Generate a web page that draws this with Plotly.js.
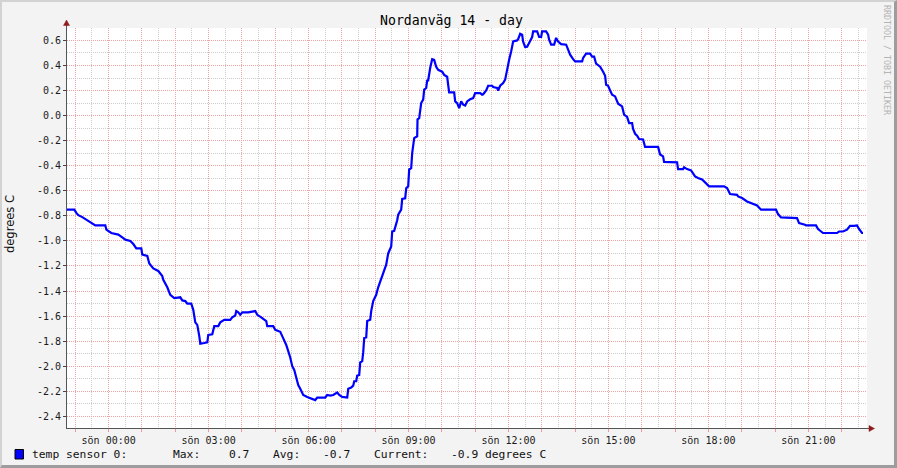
<!DOCTYPE html>
<html>
<head>
<meta charset="utf-8">
<script src="https://cdn.plot.ly/plotly-3.0.1.min.js"></script>
<style>
  html, body { margin: 0; padding: 0; background: #f3f3f3; }
  #wrap { position: relative; width: 897px; height: 468px; }
  #chart { width: 897px; height: 468px; }
  #frame { position: absolute; left: 0; top: 0; width: 897px; height: 468px; box-sizing: border-box;
           border-top: 2px solid #d2d2d2; border-left: 2px solid #d2d2d2;
           border-bottom: 3px solid #9d9d9d; border-right: 3px solid #9d9d9d; pointer-events: none; }
</style>
</head>
<body>
<div id="wrap"><div id="chart"></div><div id="frame"></div></div>
<script>
// hours relative to midnight (Sunday 00:00)
const hours = [-1.25,-1.03,-0.97,-0.91,-0.79,-0.67,-0.55,-0.40,-0.10,-0.07,0.08,0.29,0.44,0.50,0.65,0.74,0.83,0.98,1.01,1.16,
1.22,1.34,1.49,1.61,1.64,1.76,1.85,1.97,2.15,2.21,2.30,2.36,2.48,2.54,2.60,2.66,2.72,2.75,2.87,2.96,
2.99,3.11,3.17,3.29,3.35,3.47,3.65,3.71,3.80,3.83,3.89,3.95,4.01,4.19,4.40,4.46,4.58,4.67,4.73,4.76,
4.94,5.00,5.09,5.15,5.21,5.27,5.33,5.39,5.45,5.51,5.57,5.63,5.69,5.75,5.84,5.96,6.05,6.14,6.20,6.26,
6.50,6.56,6.65,6.74,6.86,6.92,7.01,7.16,7.19,7.28,7.34,7.37,7.43,7.46,7.52,7.55,7.61,7.64,7.67,7.73,
7.76,7.85,7.88,7.94,8.03,8.09,8.18,8.24,8.33,8.39,8.48,8.51,8.57,8.66,8.69,8.78,8.81,8.90,8.93,8.99,
9.02,9.08,9.11,9.17,9.26,9.27,9.32,9.38,9.44,9.47,9.53,9.56,9.59,9.65,9.71,9.77,9.83,9.89,10.01,10.07,
10.16,10.19,10.22,10.37,10.40,10.46,10.52,10.58,10.64,10.70,10.76,10.85,10.94,11.00,11.15,11.21,11.24,11.33,11.39,11.51,
11.54,11.66,11.69,11.75,11.84,11.90,11.96,12.02,12.08,12.14,12.26,12.29,12.35,12.41,12.44,12.50,12.56,12.65,12.71,12.74,
12.86,12.92,12.98,13.01,13.13,13.19,13.22,13.28,13.37,13.43,13.49,13.58,13.73,13.79,13.85,13.94,14.00,14.21,14.24,14.33,
14.45,14.51,14.57,14.63,14.69,14.75,14.84,14.90,14.93,14.99,15.05,15.11,15.20,15.29,15.41,15.47,15.56,15.62,15.71,15.74,
15.80,15.86,15.92,16.04,16.10,16.49,16.55,16.64,16.67,17.06,17.09,17.24,17.27,17.36,17.48,17.60,17.69,17.81,17.90,18.02,
18.47,18.56,18.65,18.86,18.89,19.01,19.16,19.31,19.46,19.58,20.03,20.09,20.18,20.66,20.72,20.90,20.93,21.23,21.29,21.44,
21.86,21.92,22.04,22.16,22.25,22.37,22.46,22.52,22.61,22.64];
const temps = [-0.75,-0.75,-0.776,-0.795,-0.81,-0.83,-0.845,-0.876,-0.876,-0.91,-0.937,-0.95,-0.977,-0.99,-1.0,-1.025,-1.06,-1.06,-1.11,-1.12,
-1.18,-1.22,-1.24,-1.28,-1.31,-1.37,-1.43,-1.456,-1.45,-1.475,-1.48,-1.50,-1.50,-1.55,-1.65,-1.67,-1.76,-1.82,-1.815,-1.81,
-1.75,-1.745,-1.68,-1.68,-1.65,-1.63,-1.63,-1.61,-1.595,-1.56,-1.57,-1.59,-1.57,-1.57,-1.56,-1.59,-1.61,-1.63,-1.64,-1.68,
-1.68,-1.71,-1.72,-1.725,-1.76,-1.79,-1.83,-1.88,-1.93,-2.0,-2.03,-2.09,-2.15,-2.18,-2.23,-2.245,-2.255,-2.26,-2.27,-2.25,
-2.25,-2.23,-2.235,-2.23,-2.21,-2.23,-2.245,-2.25,-2.18,-2.17,-2.155,-2.12,-2.12,-2.075,-2.07,-1.97,-1.96,-1.89,-1.775,-1.77,
-1.64,-1.63,-1.56,-1.48,-1.43,-1.37,-1.30,-1.26,-1.19,-1.10,-1.045,-0.925,-0.92,-0.835,-0.79,-0.75,-0.665,-0.66,-0.58,-0.565,
-0.43,-0.42,-0.30,-0.18,-0.165,-0.03,-0.02,0.10,0.127,0.207,0.22,0.28,0.28,0.38,0.45,0.445,0.39,0.365,0.35,0.325,
0.31,0.246,0.185,0.185,0.113,0.10,0.06,0.113,0.087,0.08,0.113,0.13,0.14,0.18,0.18,0.167,0.17,0.20,0.238,0.238,
0.228,0.22,0.20,0.238,0.26,0.287,0.38,0.446,0.512,0.592,0.60,0.61,0.653,0.645,0.59,0.547,0.55,0.59,0.627,0.672,
0.672,0.627,0.627,0.672,0.672,0.645,0.606,0.566,0.566,0.62,0.59,0.57,0.566,0.526,0.486,0.45,0.432,0.432,0.46,0.494,
0.494,0.47,0.47,0.414,0.40,0.39,0.35,0.318,0.246,0.238,0.20,0.167,0.153,0.095,0.073,0.007,-0.011,-0.06,-0.06,-0.107,
-0.145,-0.16,-0.187,-0.19,-0.25,-0.25,-0.31,-0.325,-0.37,-0.373,-0.427,-0.427,-0.413,-0.427,-0.437,-0.485,-0.498,-0.51,-0.533,-0.565,
-0.565,-0.578,-0.626,-0.632,-0.645,-0.658,-0.685,-0.698,-0.717,-0.751,-0.751,-0.786,-0.813,-0.818,-0.858,-0.871,-0.876,-0.876,-0.905,-0.937,
-0.937,-0.925,-0.925,-0.91,-0.88,-0.88,-0.876,-0.905,-0.937,-0.937];

const xTickVals = [-1,0,1,2,3,4,5,6,7,8,9,10,11,12,13,14,15,16,17,18,19,20,21,22];
const xTickText = ['','sön 00:00','','','sön 03:00','','','sön 06:00','','','sön 09:00','','','sön 12:00','','','sön 15:00','','','sön 18:00','','','sön 21:00',''];
const yTickVals = [0.6,0.4,0.2,0.0,-0.2,-0.4,-0.6,-0.8,-1.0,-1.2,-1.4,-1.6,-1.8,-2.0,-2.2,-2.4];
const yTickText = ['0.6','0.4','0.2','0.0','-0.2','-0.4','-0.6','-0.8','-1.0','-1.2','-1.4','-1.6','-1.8','-2.0','-2.2','-2.4'];

const titleText = 'Nordanväg 14 - day';
const yTitle = 'degrees C';
const seriesName = 'temp sensor 0:';
const legendItems = [
  {text: 'temp sensor 0:', left: 30.5},
  {text: 'Max:', left: 171.5},
  {text: '0.7', left: 228},
  {text: 'Avg:', left: 271.5},
  {text: '-0.7', left: 321.5},
  {text: 'Current:', left: 372.5},
  {text: '-0.9 degrees C', left: 450}
];
const watermark = 'RRDTOOL / TOBI OETIKER';

// pixel -> paper helpers (plot area 67..867 x 28..428)
const L = 67, R = 867, T = 28, B = 428;
const px = x => (x - L) / (R - L);
const py = y => (B - y) / (B - T);

const mono = 'DejaVu Sans Mono, monospace';
const arrowRed = '#8e1b1b';

const annotations = legendItems.map(it => ({
  xref: 'paper', yref: 'paper', x: px(it.left - 1), y: py(454.5), xanchor: 'left', yanchor: 'middle',
  text: it.text, showarrow: false, font: {family: mono, size: 11.3, color: '#111'}
}));
annotations.push({
  xref: 'paper', yref: 'paper', x: px(10), y: py(224), xanchor: 'center', yanchor: 'middle',
  text: yTitle, textangle: -90, showarrow: false, font: {family: 'DejaVu Sans, sans-serif', size: 11.5, color: '#111'}
});
annotations.push({
  xref: 'paper', yref: 'paper', x: px(887), y: py(60), xanchor: 'center', yanchor: 'middle',
  text: watermark, textangle: 90, showarrow: false, font: {family: mono, size: 8.3, color: '#b4b4b4'}
});

const shapes = [
  // legend swatch
  {type: 'rect', xref: 'paper', yref: 'paper', x0: px(15), x1: px(23.5), y0: py(459), y1: py(449.5),
   fillcolor: '#0000ff', line: {color: '#000', width: 1}},
  // x axis extension
  {type: 'line', xref: 'paper', yref: 'paper', x0: px(867), x1: px(870), y0: py(428.5), y1: py(428.5),
   line: {color: '#555', width: 1}},
  // right arrow
  {type: 'path', xref: 'paper', yref: 'paper',
   path: `M ${px(869)},${py(425.5)} L ${px(874.5)},${py(428.5)} L ${px(869)},${py(431.5)} Z`,
   fillcolor: arrowRed, line: {color: arrowRed, width: 0.5}},
  // y axis extension and top arrow
  {type: 'line', xref: 'paper', yref: 'paper', x0: px(66.5), x1: px(66.5), y0: py(28), y1: py(25),
   line: {color: '#555', width: 1}},
  {type: 'path', xref: 'paper', yref: 'paper',
   path: `M ${px(63.5)},${py(25.5)} L ${px(66.5)},${py(20)} L ${px(69.5)},${py(25.5)} Z`,
   fillcolor: arrowRed, line: {color: arrowRed, width: 0.5}}
];

const trace = {
  x: hours, y: temps, type: 'scatter', mode: 'lines', name: seriesName,
  line: {color: '#0000ff', width: 2.2}, hoverinfo: 'skip'
};

const layout = {
  width: 897, height: 468,
  margin: {l: 67, r: 30, t: 28, b: 40, pad: 0},
  paper_bgcolor: '#f3f3f3', plot_bgcolor: '#ffffff',
  showlegend: false,
  title: {text: titleText, xref: 'container', yref: 'container', x: 451.5 / 897, y: 1 - 20 / 468,
          xanchor: 'center', yanchor: 'middle', font: {family: mono, size: 13.2, color: '#000'}},
  xaxis: {
    range: [-1.25, 22.76], fixedrange: true,
    tickmode: 'array', tickvals: xTickVals, ticktext: xTickText,
    ticks: 'outside', ticklen: 3, tickcolor: '#ee9a9a', tickwidth: 1,
    tickfont: {family: mono, size: 10, color: '#1a1a1a'},
    showgrid: true, gridcolor: '#f2a3a3', griddash: '1px,1px', gridwidth: 1,
    minor: {tickmode: 'linear', tick0: -0.5, dtick: 1, showgrid: true, gridcolor: '#cccccc', griddash: '1px,1px', gridwidth: 1, ticks: ''},
    showline: true, linecolor: '#555', linewidth: 1, zeroline: false
  },
  yaxis: {
    range: [-2.493, 0.699], fixedrange: true,
    tickmode: 'array', tickvals: yTickVals, ticktext: yTickText,
    ticks: 'outside', ticklen: 3, tickcolor: '#444', tickwidth: 1,
    tickfont: {family: mono, size: 10, color: '#1a1a1a'},
    showgrid: true, gridcolor: '#f2a3a3', griddash: '1px,1px', gridwidth: 1,
    minor: {tickmode: 'linear', tick0: 0.1, dtick: 0.2, showgrid: true, gridcolor: '#cccccc', griddash: '1px,1px', gridwidth: 1, ticks: ''},
    showline: true, linecolor: '#555', linewidth: 1, zeroline: false
  },
  annotations: annotations,
  shapes: shapes
};

Plotly.newPlot('chart', [trace], layout, {staticPlot: true, displayModeBar: false});
</script>
</body>
</html>
